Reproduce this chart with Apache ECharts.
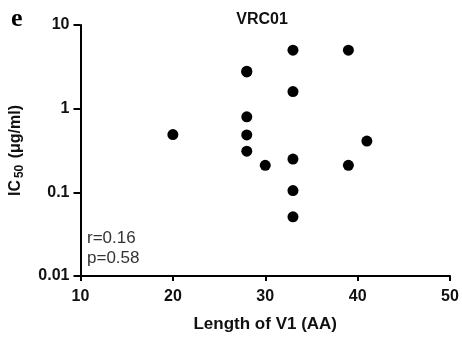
<!DOCTYPE html>
<html>
<head>
<meta charset="utf-8">
<script src="https://cdn.jsdelivr.net/npm/echarts@6/dist/echarts.min.js"></script>
<style>html,body{margin:0;padding:0;background:#fff}#c{width:462px;height:338px}</style>
</head>
<body>
<div id="c"></div>
<script>
var v1Values = [20, 28, 28, 28, 28, 28, 30, 33, 33, 33, 33, 33, 39, 39, 41];
var ic50Values = [0.49, 2.75, 2.8, 0.8, 0.485, 0.31, 0.21, 5.0, 1.6, 0.25, 0.105, 0.051, 5.0, 0.21, 0.41];
var xTicks = [10, 20, 30, 40, 50];
var yTicks = [0.01, 0.1, 1, 10];
var titleText = 'VRC01';
var statLines = ['r=0.16', 'p=0.58'];

var pts = v1Values.map(function (x, i) { return [x, ic50Values[i]]; });
var font = 'Liberation Sans, Arial, sans-serif';
var chart = echarts.init(document.getElementById('c'));
chart.setOption({
  animation: false,
  backgroundColor: '#fff',
  title: {
    text: titleText, left: 257, top: 7, textAlign: 'center',
    textStyle: { fontFamily: font, fontWeight: 'bold', fontSize: 16, color: '#111' }
  },
  grid: { left: 77, right: 12, top: 25, bottom: 62 },
  xAxis: {
    type: 'value', min: xTicks[0], max: xTicks[xTicks.length - 1], interval: 10,
    name: 'Length of V1 (AA)', nameLocation: 'middle', nameGap: 40,
    nameTextStyle: { fontFamily: font, fontWeight: 'bold', fontSize: 17, color: '#111' },
    axisLine: { lineStyle: { color: '#000', width: 2 } },
    axisTick: { inside: false, length: 5, lineStyle: { color: '#000', width: 2 } },
    axisLabel: { margin: 13, fontFamily: font, fontWeight: 'bold', fontSize: 16, color: '#111' },
    splitLine: { show: false }
  },
  yAxis: {
    type: 'log', logBase: 10, min: yTicks[0], max: yTicks[yTicks.length - 1],
    name: '{a|IC}{b|50}{a| (μg/ml)}', nameLocation: 'middle', nameGap: 55, nameRotate: 90,
    nameTextStyle: {
      rich: {
        a: { fontFamily: font, fontWeight: 'bold', fontSize: 16, color: '#111' },
        b: { fontFamily: font, fontWeight: 'bold', fontSize: 12, color: '#111', verticalAlign: 'bottom', padding: [7, 2, 0, 2] }
      }
    },
    axisLine: { show: true, lineStyle: { color: '#000', width: 2 } },
    axisTick: { show: true, inside: false, length: 7, lineStyle: { color: '#000', width: 2 } },
    minorTick: { show: false },
    axisLabel: {
      margin: 11, fontFamily: font, fontWeight: 'bold', fontSize: 16, color: '#111',
      formatter: function (v) {
        var t = yTicks.filter(function (k) { return Math.abs(Math.log10(k) - Math.log10(v)) < 1e-6; });
        return t.length ? String(t[0]) : '';
      }
    },
    splitLine: { show: false }
  },
  series: [{
    type: 'scatter', data: pts, symbol: 'circle', symbolSize: 11,
    itemStyle: { color: '#000', opacity: 1 }
  }],
  graphic: [
    { type: 'text', left: 11, top: 6, style: { text: 'e', fontFamily: 'Liberation Serif, serif', fontWeight: 'bold', fontSize: 26, fill: '#000' } },
    { type: 'text', left: 87, top: 228, style: { text: statLines.join('\n'), fontFamily: font, fontSize: 17, lineHeight: 20, fill: '#333' } }
  ]
});
</script>
</body>
</html>
